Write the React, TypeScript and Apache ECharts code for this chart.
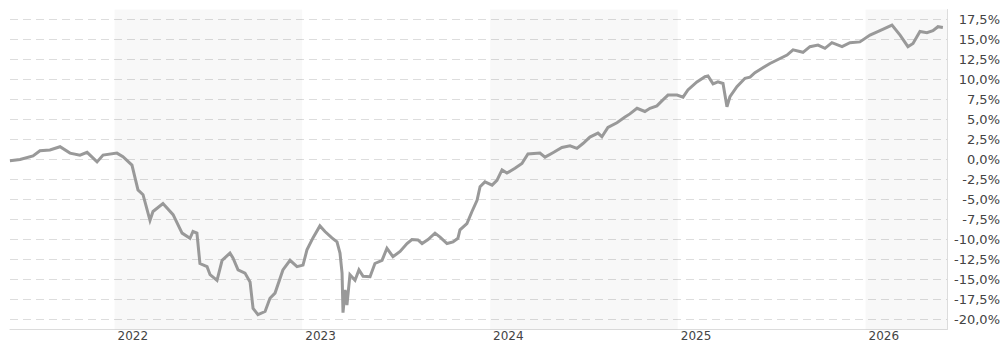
import React, { useEffect, useRef } from 'react';
import * as echarts from 'echarts';

// time in decimal years, performance in %
const times = [
  2021.443, 2021.497, 2021.566, 2021.603, 2021.656, 2021.710, 2021.763, 2021.816, 2021.854, 2021.907,
  2021.939, 2022.013, 2022.045, 2022.093, 2022.125, 2022.152, 2022.189, 2022.205, 2022.258, 2022.312,
  2022.360, 2022.402, 2022.418, 2022.439, 2022.455, 2022.493, 2022.509, 2022.546, 2022.573, 2022.615,
  2022.631, 2022.658, 2022.695, 2022.722, 2022.738, 2022.764, 2022.802, 2022.828, 2022.855, 2022.897,
  2022.935, 2022.972, 2023.004, 2023.025, 2023.057, 2023.094, 2023.121, 2023.158, 2023.185, 2023.201,
  2023.212, 2023.217, 2023.228, 2023.238, 2023.254, 2023.281, 2023.302, 2023.324, 2023.361, 2023.387,
  2023.425, 2023.451, 2023.483, 2023.521, 2023.558, 2023.584, 2023.616, 2023.638, 2023.670, 2023.707,
  2023.734, 2023.771, 2023.803, 2023.829, 2023.840, 2023.877, 2023.904, 2023.931, 2023.947, 2023.973,
  2024.011, 2024.037, 2024.064, 2024.090, 2024.133, 2024.170, 2024.202, 2024.266, 2024.293, 2024.335,
  2024.383, 2024.426, 2024.463, 2024.495, 2024.532, 2024.575, 2024.596, 2024.628, 2024.676, 2024.719,
  2024.745, 2024.783, 2024.825, 2024.852, 2024.889, 2024.921, 2024.948, 2024.996, 2025.028, 2025.054,
  2025.102, 2025.145, 2025.161, 2025.188, 2025.214, 2025.241, 2025.262, 2025.278, 2025.315, 2025.358,
  2025.385, 2025.411, 2025.449, 2025.491, 2025.534, 2025.582, 2025.614, 2025.667, 2025.704, 2025.747,
  2025.784, 2025.821, 2025.875, 2025.917, 2025.970, 2026.024, 2026.077, 2026.141, 2026.184, 2026.226,
  2026.253, 2026.290, 2026.327, 2026.359, 2026.386, 2026.412,
];

const performance = [
  -0.15, 0.0, 0.45, 1.1, 1.2, 1.6, 0.8, 0.55, 0.9, -0.3,
  0.55, 0.8, 0.35, -0.7, -3.8, -4.4, -7.6, -6.5, -5.5, -6.9,
  -9.2, -9.85, -9.0, -9.2, -13.0, -13.4, -14.4, -15.1, -12.6, -11.7,
  -12.3, -13.8, -14.2, -15.3, -18.6, -19.4, -19.0, -17.35, -16.7, -13.8,
  -12.6, -13.4, -13.2, -11.3, -9.8, -8.3, -9.0, -9.8, -10.3, -11.7,
  -14.2, -19.15, -16.3, -18.2, -14.4, -15.1, -13.8, -14.6, -14.65, -13.0,
  -12.6, -11.1, -12.15, -11.5, -10.5, -10.0, -10.05, -10.5, -10.0, -9.2,
  -9.7, -10.5, -10.3, -9.85, -8.8, -8.0, -6.5, -5.1, -3.4, -2.8,
  -3.2, -2.6, -1.3, -1.7, -1.1, -0.5, 0.7, 0.8, 0.3, 0.85,
  1.5, 1.7, 1.4, 2.0, 2.8, 3.3, 2.85, 4.0, 4.6, 5.3,
  5.7, 6.4, 6.0, 6.4, 6.7, 7.45, 8.05, 8.05, 7.8, 8.7,
  9.7, 10.35, 10.45, 9.45, 9.7, 9.5, 6.6, 7.85, 9.1, 10.15,
  10.3, 10.85, 11.4, 12.0, 12.5, 13.05, 13.7, 13.4, 14.1, 14.3,
  13.9, 14.6, 14.1, 14.6, 14.7, 15.55, 16.1, 16.8, 15.55, 14.1,
  14.5, 16.0, 15.85, 16.1, 16.6, 16.5,
];

const yearLabels = [2022, 2023, 2024, 2025, 2026];
const yTicks = [-20, -17.5, -15, -12.5, -10, -7.5, -5, -2.5, 0, 2.5, 5, 7.5, 10, 12.5, 15, 17.5];
const xMin = 2021.4434;
const xMax = 2026.434;
const yMin = -21.25;
const yMax = 18.75;
const shadedYears = [
  [2022, 2023],
  [2024, 2025],
  [2026, xMax],
];

const FONT = "'DejaVu Sans', Verdana, sans-serif";

export default function App() {
  const ref = useRef<HTMLDivElement>(null);

  useEffect(() => {
    if (!ref.current) return;
    const chart = echarts.init(ref.current, undefined, { renderer: 'svg' });
    const data = times.map((t, i) => [t, performance[i]]);
    chart.setOption({
      animation: false,
      backgroundColor: '#ffffff',
      grid: {
        left: 10,
        right: 55,
        top: 9.5,
        bottom: 12.5,
        containLabel: false,
        outerBoundsMode: 'none',
      },
      xAxis: {
        type: 'value',
        min: xMin,
        max: xMax,
        axisLine: { show: true, onZero: false, lineStyle: { color: '#dcdcdc', width: 1 } },
        axisTick: { show: false, customValues: yearLabels },
        splitLine: { show: false },
        axisLabel: {
          customValues: yearLabels,
          formatter: (v: number) => String(Math.round(v)),
          align: 'left',
          margin: 0,
          padding: [0, 0, 0, 3],
          color: '#444',
          fontFamily: FONT,
          fontSize: 12,
        },
      },
      yAxis: {
        type: 'value',
        position: 'right',
        min: yMin,
        max: yMax,
        axisLine: { show: true, onZero: false, lineStyle: { color: '#dcdcdc', width: 1 } },
        axisTick: { show: false, customValues: yTicks },
        splitLine: {
          show: true,
          lineStyle: { color: '#dddddd', width: 1, type: [8, 5] },
        },
        axisLabel: {
          customValues: yTicks,
          formatter: (v: number) => v.toFixed(1).replace('.', ',') + '%',
          align: 'right',
          margin: 53,
          padding: [5, 0, 0, 0],
          color: '#444',
          fontFamily: FONT,
          fontSize: 13,
        },
      },
      series: [
        {
          type: 'line',
          data,
          showSymbol: false,
          symbol: 'none',
          lineStyle: { color: '#999999', width: 3, join: 'miter' },
          markArea: {
            silent: true,
            itemStyle: { color: 'rgba(0,0,0,0.028)' },
            data: shadedYears.map(([a, b]) => [{ xAxis: a }, { xAxis: b }]),
          },
        },
      ],
    });
    return () => chart.dispose();
  }, []);

  return (
    <div
      ref={ref}
      style={{ position: 'fixed', left: 0, top: 0, width: 1002, height: 342 }}
    />
  );
}
